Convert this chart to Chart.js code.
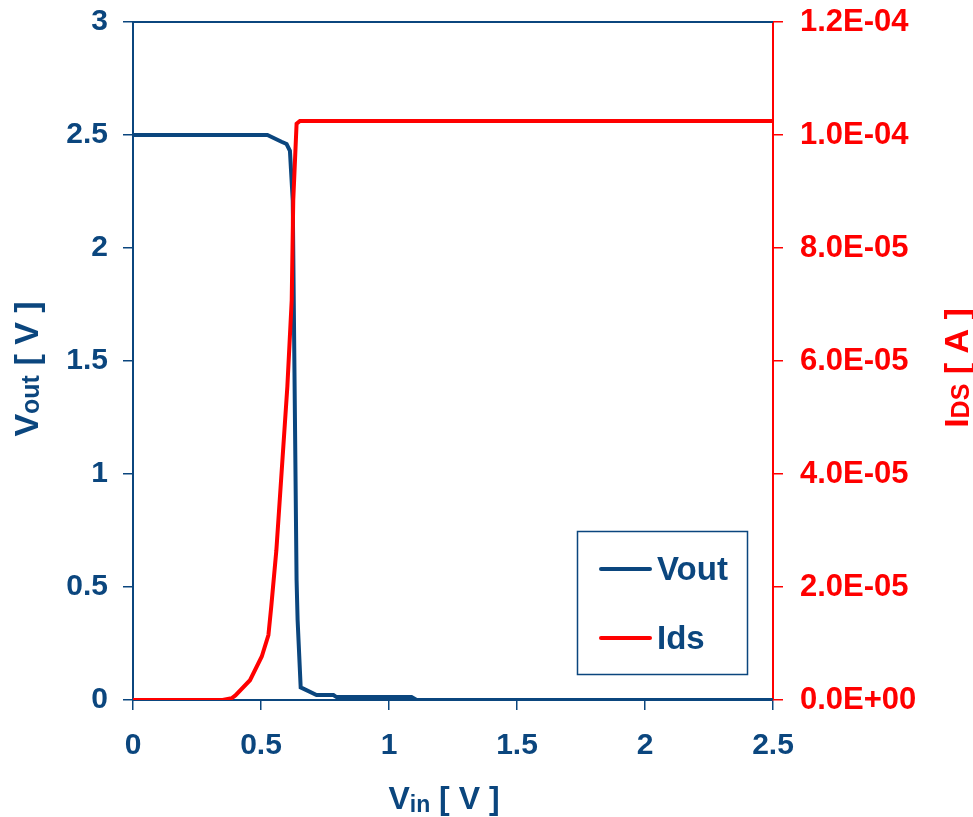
<!DOCTYPE html>
<html>
<head>
<meta charset="utf-8">
<script src="https://cdn.jsdelivr.net/npm/chart.js@4/dist/chart.umd.min.js"></script>
<style>
  html, body { margin: 0; padding: 0; background: #ffffff; }
  #wrap { width: 973px; height: 817px; }
</style>
</head>
<body>
<div id="wrap"><canvas id="chart" width="973" height="817"></canvas></div>
<script>
// Vout transfer curve (Vin in V, Vout in V)
const vinVout = [0, 0.525, 0.58, 0.60, 0.613, 0.624, 0.639, 0.643, 0.655, 0.717, 0.783, 0.795, 1.088, 1.108, 2.5];
const voutValues = [2.5, 2.5, 2.47, 2.46, 2.43, 2.21, 0.53, 0.354, 0.056, 0.022, 0.022, 0.013, 0.013, 0, 0];

// drain current (Vin in V, Ids in A)
const vinIds = [0, 0.35, 0.385, 0.40, 0.457, 0.503, 0.529, 0.54, 0.56, 0.603, 0.62, 0.626, 0.639, 0.652, 2.5];
const idsValues = [0, 0, 3e-7, 8e-7, 3.5e-6, 7.7e-6, 1.15e-5, 1.65e-5, 2.65e-5, 5.55e-5, 7.08e-5, 8.85e-5, 1.02e-4, 1.025e-4, 1.025e-4];

// tick labels
const vinTickLabels = ["0", "0.5", "1", "1.5", "2", "2.5"];
const voutTickLabels = ["0", "0.5", "1", "1.5", "2", "2.5", "3"];
const idsTickLabels = ["0.0E+00", "2.0E-05", "4.0E-05", "6.0E-05", "8.0E-05", "1.0E-04", "1.2E-04"];

const BLUE = "#0B467E";
const RED = "#FF0000";
const FONT = "'Liberation Sans', Arial, sans-serif";

function drawRich(ctx, parts, x, y, angle, color) {
  ctx.save();
  ctx.translate(x, y);
  ctx.rotate(angle);
  ctx.fillStyle = color;
  ctx.textBaseline = "alphabetic";
  ctx.textAlign = "left";
  let total = 0;
  parts.forEach((p) => {
    ctx.font = `bold ${p.size}px ${FONT}`;
    p.w = ctx.measureText(p.text).width;
    total += p.w;
  });
  let cx = -total / 2;
  parts.forEach((p) => {
    ctx.font = `bold ${p.size}px ${FONT}`;
    ctx.fillText(p.text, cx, p.drop || 0);
    cx += p.w;
  });
  ctx.restore();
}

// keep the plot box fixed, labels may overhang
function fixBox(size) {
  return (s) => {
    if (s.isHorizontal()) {
      s.height = size;
    } else {
      s.width = size;
    }
    s.paddingTop = 0;
    s.paddingBottom = 0;
    s.paddingLeft = 0;
    s.paddingRight = 0;
  };
}

const extrasPlugin = {
  id: "extras",
  afterDraw(chart) {
    const { ctx, chartArea: a } = chart;
    ctx.save();
    // top frame line
    ctx.strokeStyle = BLUE;
    ctx.lineWidth = 2;
    ctx.beginPath();
    ctx.moveTo(a.left, a.top);
    ctx.lineTo(a.right, a.top);
    ctx.stroke();

    // axis titles
    drawRich(ctx, [
      { text: "V", size: 32 },
      { text: "in", size: 23, drop: 3 },
      { text: " [ V ]", size: 32 },
    ], 444, 809, 0, BLUE);
    drawRich(ctx, [
      { text: "V", size: 34 },
      { text: "out", size: 25, drop: 1 },
      { text: " [ V ]", size: 34 },
    ], 38, 369, -Math.PI / 2, BLUE);
    drawRich(ctx, [
      { text: "I", size: 34 },
      { text: "DS", size: 25, drop: 1 },
      { text: " [ A ]", size: 34 },
    ], 968, 368, -Math.PI / 2, RED);

    // legend box
    ctx.strokeStyle = BLUE;
    ctx.lineWidth = 1.5;
    ctx.strokeRect(577.5, 531.5, 170, 143);
    const rows = [569, 638];
    chart.data.datasets.forEach((ds, i) => {
      const y = rows[i];
      ctx.strokeStyle = ds.borderColor;
      ctx.lineWidth = 4;
      ctx.lineCap = "round";
      ctx.beginPath();
      ctx.moveTo(601, y);
      ctx.lineTo(650, y);
      ctx.stroke();
      ctx.fillStyle = BLUE;
      ctx.font = `bold 33px ${FONT}`;
      ctx.textBaseline = "alphabetic";
      ctx.fillText(ds.label, 657, y + 11);
    });
    ctx.restore();
  },
};

new Chart(document.getElementById("chart"), {
  type: "line",
  data: {
    datasets: [
      {
        label: "Vout",
        data: vinVout.map((v, i) => ({ x: v, y: voutValues[i] })),
        borderColor: BLUE,
        borderWidth: 4,
        pointRadius: 0,
        tension: 0,
        yAxisID: "y",
        order: 1,
      },
      {
        label: "Ids",
        data: vinIds.map((v, i) => ({ x: v, y: idsValues[i] })),
        borderColor: RED,
        borderWidth: 4,
        pointRadius: 0,
        tension: 0,
        yAxisID: "y1",
        order: 0,
      },
    ],
  },
  options: {
    responsive: false,
    animation: false,
    layout: { padding: { top: 22, left: 0, right: 0, bottom: 0 } },
    plugins: {
      legend: { display: false },
      tooltip: { enabled: false },
    },
    scales: {
      x: {
        type: "linear",
        min: 0,
        max: 2.5,
        ticks: {
          stepSize: 0.5,
          color: BLUE,
          padding: 18,
          maxRotation: 0,
          font: { family: FONT, size: 30, weight: "bold" },
          callback: (v, i) => vinTickLabels[i],
        },
        grid: { drawOnChartArea: false, drawTicks: true, tickLength: 10, color: BLUE, lineWidth: 1.5 },
        border: { display: true, color: BLUE, width: 2 },
        afterFit: fixBox(117),
      },
      y: {
        position: "left",
        min: 0,
        max: 3,
        ticks: {
          stepSize: 0.5,
          color: BLUE,
          padding: 15,
          font: { family: FONT, size: 30, weight: "bold" },
          callback: (v, i) => voutTickLabels[i],
        },
        grid: { drawOnChartArea: false, drawTicks: true, tickLength: 10, color: BLUE, lineWidth: 1.5 },
        border: { display: true, color: BLUE, width: 2 },
        afterFit: fixBox(133),
      },
      y1: {
        position: "right",
        min: 0,
        max: 1.2e-4,
        ticks: {
          stepSize: 2e-5,
          color: RED,
          padding: 17,
          font: { family: FONT, size: 31, weight: "bold" },
          callback: (v, i) => idsTickLabels[i],
        },
        grid: { drawOnChartArea: false, drawTicks: true, tickLength: 10, color: RED, lineWidth: 1.5 },
        border: { display: true, color: RED, width: 2 },
        afterFit: fixBox(200),
      },
    },
  },
  plugins: [extrasPlugin],
});
</script>
</body>
</html>
